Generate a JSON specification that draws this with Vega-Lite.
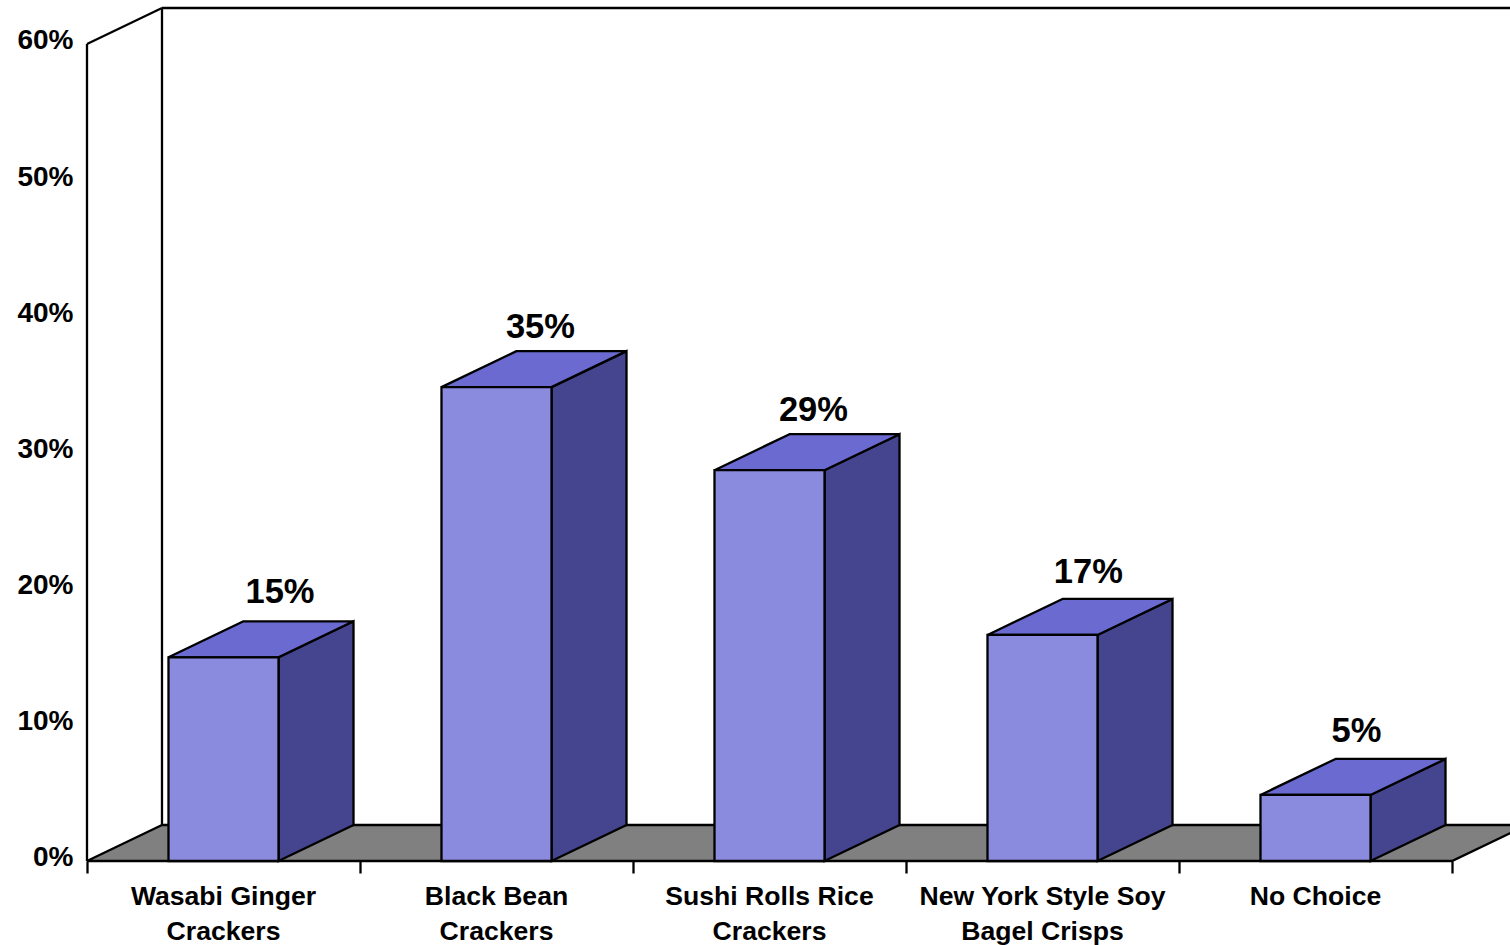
{
"$schema":"https://vega.github.io/schema/vega-lite/v6.json",
"width":1510,"height":945,"padding":0,"autosize":{"type":"none"},
"background":"white",
"config":{"view":{"stroke":null},"font":"Liberation Sans"},
"datasets":{
"bars":[
{"category":"Wasabi Ginger\nCrackers","slot":0,"value":0.1496,"label":"15%"},
{"category":"Black Bean\nCrackers","slot":1,"value":0.348,"label":"35%"},
{"category":"Sushi Rolls Rice\nCrackers","slot":2,"value":0.287,"label":"29%"},
{"category":"New York Style Soy\nBagel Crisps","slot":3,"value":0.166,"label":"17%"},
{"category":"No Choice","slot":4,"value":0.0485,"label":"5%"}
],
"floor":[
{"y":0,"x":0,"x2":5},
{"y":0.02644,"x":0.2747,"x2":5.2747}
],
"frame":[
{"x":0,"y":0,"x2":0,"y2":0.6},
{"x":0,"y":0.6,"x2":0.2747,"y2":0.62644},
{"x":0.2747,"y":0.02644,"x2":0.2747,"y2":0.62644},
{"x":0.2747,"y":0.62644,"x2":5.2747,"y2":0.62644}
]
},
"layer":[
{"data":{"name":"frame"},"mark":{"type":"rule","stroke":"black","strokeWidth":2.3,"clip":true},
"encoding":{
"x":{"field":"x","type":"quantitative","title":null,"scale":{"domain":[-0.31868,5.21245],"nice":false,"zero":false},
"axis":{"values":[0,1,2,3,4,5],"labels":false,"domain":false,"grid":false,"tickSize":12,"tickWidth":2.3,"tickColor":"black","offset":-84,"orient":"bottom","title":null}},
"y":{"field":"y","type":"quantitative","title":null,"scale":{"domain":[-0.06169,0.6323],"nice":false,"zero":false},
"axis":{"values":[0,0.1,0.2,0.3,0.4,0.5,0.6],"format":".0%","domain":false,"grid":false,"ticks":false,"offset":-87,"orient":"left","labelPadding":14,"labelFontSize":28,"labelFontWeight":"bold","labelColor":"black","labelFont":"Liberation Sans","labelOffset":-3,"title":null}},
"x2":{"field":"x2"},"y2":{"field":"y2"}}},
{"data":{"name":"floor"},"mark":{"type":"area","orient":"horizontal","fill":"#808080","stroke":"black","strokeWidth":2.3,"clip":true},
"encoding":{
"y":{"field":"y","type":"quantitative","title":null,"scale":{"domain":[-0.06169,0.6323],"nice":false,"zero":false}},
"x":{"field":"x","type":"quantitative","title":null,"scale":{"domain":[-0.31868,5.21245],"nice":false,"zero":false}},
"x2":{"field":"x2"}}},
{"data":{"name":"bars"},
"transform":[
{"calculate":"0","as":"front"},{"calculate":"1","as":"back"},
{"fold":["front","back"],"as":["edge","t"]},
{"calculate":"datum.slot+0.7015+datum.t*0.2747","as":"px"},
{"calculate":"datum.t*0.02644","as":"low"},
{"calculate":"datum.value+datum.t*0.02644","as":"high"}
],
"mark":{"type":"area","orient":"vertical","fill":"#45458F","stroke":"black","strokeWidth":2.3},
"encoding":{
"x":{"field":"px","type":"quantitative","title":null,"scale":{"domain":[-0.31868,5.21245],"nice":false,"zero":false}},
"y":{"field":"high","type":"quantitative","title":null,"scale":{"domain":[-0.06169,0.6323],"nice":false,"zero":false}},
"y2":{"field":"low"},
"detail":{"field":"category"}}},
{"data":{"name":"bars"},
"transform":[
{"calculate":"0","as":"front"},{"calculate":"1","as":"back"},
{"fold":["front","back"],"as":["edge","t"]},
{"calculate":"datum.slot+0.2985+datum.t*0.2747","as":"left"},
{"calculate":"datum.slot+0.7015+datum.t*0.2747","as":"right"},
{"calculate":"datum.value+datum.t*0.02644","as":"high"}
],
"mark":{"type":"area","orient":"horizontal","fill":"#6A6AD0","stroke":"black","strokeWidth":2.3},
"encoding":{
"y":{"field":"high","type":"quantitative","title":null,"scale":{"domain":[-0.06169,0.6323],"nice":false,"zero":false}},
"x":{"field":"left","type":"quantitative","title":null,"scale":{"domain":[-0.31868,5.21245],"nice":false,"zero":false}},
"x2":{"field":"right"},
"detail":{"field":"category"}}},
{"data":{"name":"bars"},
"transform":[
{"calculate":"datum.slot+0.2985","as":"left"},
{"calculate":"datum.slot+0.7015","as":"right"}
],
"mark":{"type":"rect","fill":"#8A8ADF","stroke":"black","strokeWidth":2.3},
"encoding":{
"x":{"field":"left","type":"quantitative","title":null,"scale":{"domain":[-0.31868,5.21245],"nice":false,"zero":false}},
"x2":{"field":"right"},
"y":{"field":"value","type":"quantitative","title":null,"scale":{"domain":[-0.06169,0.6323],"nice":false,"zero":false}},
"y2":{"datum":0}}},
{"data":{"name":"bars"},
"transform":[
{"calculate":"datum.slot+0.5+[0.207,0.161,0.161,0.168,0.15][datum.slot]","as":"lx"},
{"calculate":"datum.value+0.02644+[0.0037,0,0,0.0022,0.0029][datum.slot]","as":"ly"}
],
"mark":{"type":"text","font":"Liberation Sans","fontWeight":"bold","fontSize":34.5,"fill":"black","align":"center","baseline":"alphabetic","dy":-13},
"encoding":{
"x":{"field":"lx","type":"quantitative","title":null,"scale":{"domain":[-0.31868,5.21245],"nice":false,"zero":false}},
"y":{"field":"ly","type":"quantitative","title":null,"scale":{"domain":[-0.06169,0.6323],"nice":false,"zero":false}},
"text":{"field":"label"}}},
{"data":{"name":"bars"},
"transform":[{"calculate":"datum.slot+0.5","as":"cx"}],
"mark":{"type":"text","font":"Liberation Sans","fontWeight":"bold","fontSize":26.6,"fill":"black","align":"center","baseline":"alphabetic","dy":44,"lineBreak":"\n","lineHeight":35},
"encoding":{
"x":{"field":"cx","type":"quantitative","title":null,"scale":{"domain":[-0.31868,5.21245],"nice":false,"zero":false}},
"y":{"datum":0,"type":"quantitative","title":null,"scale":{"domain":[-0.06169,0.6323],"nice":false,"zero":false}},
"text":{"field":"category"}}}
]
}
